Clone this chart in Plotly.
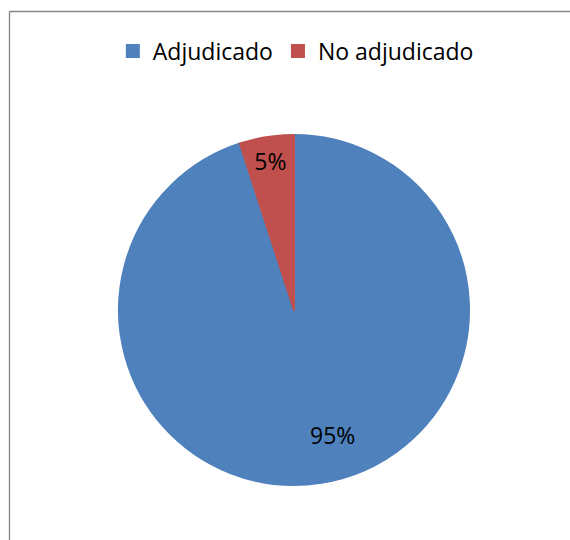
import plotly.graph_objects as go

labels = ["Adjudicado", "No adjudicado"]
values = [95, 5]
colors = ["#4F81BD", "#C0504D"]

W, H = 570, 540
FONT = "Open Sans, Noto Sans, sans-serif"
FS = 23
total = sum(values)
pct = [f"{round(100 * v / total)}%" for v in values]

fig = go.Figure(go.Pie(
    labels=labels, values=values, sort=False, direction="clockwise", rotation=0,
    marker=dict(colors=colors, line=dict(width=2, color=colors)),
    text=["", pct[1]], textinfo="text", textposition="inside", insidetextorientation="horizontal",
    textfont=dict(family=FONT, size=FS, color="black"),
    domain=dict(x=[119 / W, 469 / W], y=[1 - 485 / H, 1 - 135 / H]),
    showlegend=True, hoverinfo="skip",
))
fig.add_annotation(text=pct[0], xref="paper", yref="paper", x=332 / W, y=1 - 435 / H,
                   xanchor="center", yanchor="middle",
                   showarrow=False, font=dict(family=FONT, size=FS, color="black"))
fig.update_layout(
    width=W, height=H, margin=dict(l=0, r=0, t=0, b=0),
    paper_bgcolor="white", plot_bgcolor="white",
    font=dict(family=FONT, size=FS, color="black"),
    legend=dict(orientation="h", x=0.519, xanchor="center", y=1 - 51 / H, yanchor="middle",
                font=dict(size=FS), itemwidth=30, tracegroupgap=0),
    shapes=[
        dict(type="line", xref="paper", yref="paper", x0=9.5 / W, x1=9.5 / W, y0=1 - 11.5 / H, y1=-0.1,
             line=dict(color="#868686", width=1.3)),
        dict(type="line", xref="paper", yref="paper", x0=9.5 / W, x1=1.1, y0=1 - 11.5 / H, y1=1 - 11.5 / H,
             line=dict(color="#868686", width=1.3)),
    ],
)
fig.write_html("out.html", config={"displayModeBar": False},
               post_script="document.body.style.margin='0';document.body.style.overflow='hidden';")
